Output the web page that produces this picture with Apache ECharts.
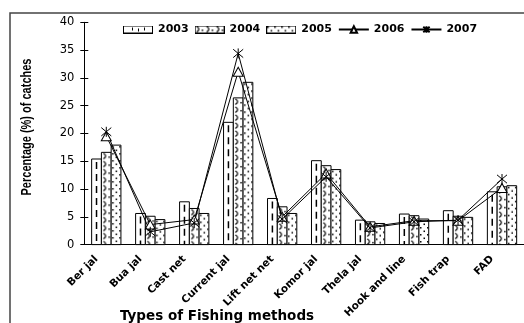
<!DOCTYPE html>
<html>
<head>
<meta charset="utf-8">
<script src="https://cdn.jsdelivr.net/npm/echarts@6/dist/echarts.min.js"></script>
<style>
  html, body { margin: 0; padding: 0; background: #fff; }
  #chart { width: 524px; height: 323px; }
</style>
</head>
<body>
<div id="chart"></div>
<script>
// Fishing methods and share of catches (%) per year
var categories = ['Ber jal', 'Bua jal', 'Cast net', 'Current jal', 'Lift net net',
                  'Komor jal', 'Thela jal', 'Hook and line', 'Fish trap', 'FAD'];
var years = ['2003', '2004', '2005', '2006', '2007'];
var catch2003 = [15.4, 5.6, 7.7, 22.0, 8.3, 15.1, 4.4, 5.5, 6.1, 9.5];
var catch2004 = [16.6, 5.1, 6.5, 26.4, 6.8, 14.2, 4.1, 5.2, 5.1, 10.4];
var catch2005 = [17.9, 4.5, 5.6, 29.2, 5.6, 13.5, 3.8, 4.6, 4.9, 10.6];
var catch2006 = [19.5, 3.6, 4.5, 31.1, 5.0, 12.8, 3.2, 4.3, 4.3, 10.2];
var catch2007 = [20.3, 2.3, 3.9, 34.4, 4.6, 12.2, 3.0, 4.1, 4.4, 11.8];
var yTicks = { min: 0, max: 40, interval: 5 };

var FONT = 'DejaVu Sans';

// ---- hatch tiles for the bar fills ----
function tile(w, h, draw) {
  var c = document.createElement('canvas');
  c.width = w; c.height = h;
  var g = c.getContext('2d');
  g.fillStyle = '#fff'; g.fillRect(0, 0, w, h);
  g.strokeStyle = '#000'; g.fillStyle = '#000'; g.lineWidth = 1;
  draw(g);
  return c;
}
// wavy marks in a column plus sparse dots
var wavyTile = tile(10, 8, function (g) {
  g.lineWidth = 1.2;
  g.beginPath();
  g.moveTo(2, 1); g.quadraticCurveTo(6.5, 3.5, 2, 6.5);
  g.stroke();
  g.fillRect(7, 4, 1.5, 1.5);
});
// scattered dots
var dotTile = tile(7, 7, function (g) {
  g.fillRect(1, 1, 1.5, 1.5);
  g.fillRect(4.5, 4.5, 1.5, 1.5);
});

function legendIcon(kind) {
  var c = document.createElement('canvas');
  c.width = 30; c.height = 8;
  var g = c.getContext('2d');
  g.fillStyle = '#fff'; g.fillRect(0, 0, 30, 8);
  if (kind === 1) { g.fillStyle = g.createPattern(wavyTile, 'repeat'); g.fillRect(0, 0, 30, 8); }
  if (kind === 2) { g.fillStyle = g.createPattern(dotTile, 'repeat'); g.fillRect(0, 0, 30, 8); }
  g.fillStyle = '#000';
  if (kind === 0) { g.fillRect(9, 2, 1, 3); g.fillRect(15, 3, 1, 3); g.fillRect(21, 2, 1, 3); }
  g.strokeStyle = '#000'; g.lineWidth = 1;
  g.strokeRect(0.5, 0.5, 29, 7);
  return 'image://' + c.toDataURL();
}

// bars drawn through the category/value scales; slot = position within the group
function barRenderer(slot, kind) {
  return function (params, api) {
    var idx = api.value(0);
    var topPt = api.coord([idx, api.value(1)]);
    var basePt = api.coord([idx, 0]);
    var band = api.size([1, 0])[0];
    var bw = band * 0.222;
    var x0 = topPt[0] + (slot - 1.5) * bw;
    var h = basePt[1] - topPt[1];
    var children = [];
    var fill = '#fff';
    if (kind === 1) fill = { image: wavyTile, repeat: 'repeat' };
    if (kind === 2) fill = { image: dotTile, repeat: 'repeat' };
    children.push({
      type: 'rect',
      shape: { x: 0, y: 0, width: bw, height: h },
      style: { fill: fill, stroke: '#000', lineWidth: 1 }
    });
    if (kind === 0) {
      children.push({
        type: 'line',
        shape: { x1: bw / 2, y1: 3, x2: bw / 2, y2: h },
        style: { stroke: '#000', lineWidth: 1.5, lineDash: [7, 5] }
      });
    }
    return { type: 'group', x: x0, y: topPt[1], children: children };
  };
}

function pairs(arr) { return arr.map(function (v, i) { return [i, v]; }); }

var starPath = 'path://M0,0L10,10M10,0L0,10M5,-1L5,11';

var chart = echarts.init(document.getElementById('chart'), null, { renderer: 'canvas' });
chart.setOption({
  animation: false,
  textStyle: { fontFamily: FONT, color: '#000' },
  grid: { left: 84.3, top: 22.3, bottom: 78.4, right: -12.2, containLabel: false },
  legend: {
    left: 118, top: 19,
    itemWidth: 30, itemHeight: 8, itemGap: 6,
    textStyle: { fontFamily: FONT, fontWeight: 'bold', fontSize: 11, color: '#000' },
    data: [
      { name: years[0], icon: legendIcon(0) },
      { name: years[1], icon: legendIcon(1) },
      { name: years[2], icon: legendIcon(2) },
      { name: years[3] },
      { name: years[4] }
    ]
  },
  xAxis: {
    type: 'category',
    data: categories,
    boundaryGap: true,
    axisLine: { lineStyle: { color: '#000', width: 1 } },
    axisTick: { length: 5, lineStyle: { color: '#000' } },
    axisLabel: {
      rotate: 45, margin: 3, interval: 0,
      fontFamily: FONT, fontWeight: 'bold', fontSize: 10.5, color: '#000',
      padding: [0, 14, 0, 0]
    },
    splitLine: { show: false }
  },
  yAxis: [{
    type: 'value',
    min: yTicks.min, max: yTicks.max, interval: yTicks.interval,
    axisLine: { show: true, lineStyle: { color: '#000', width: 1 } },
    axisTick: { show: true, length: 4, lineStyle: { color: '#000' } },
    axisLabel: { fontFamily: FONT, fontSize: 11.5, color: '#000', margin: 10 },
    splitLine: { show: false }
  }, {
    type: 'value', position: 'left',
    min: yTicks.min, max: yTicks.max, interval: yTicks.interval,
    axisLine: { show: false },
    axisTick: { show: true, inside: true, length: 4, lineStyle: { color: '#000' } },
    axisLabel: { show: false },
    splitLine: { show: false }
  }],
  graphic: [
    {
      type: 'rect', z: 100, silent: true,
      shape: { x: 10, y: 13, width: 700, height: 500 },
      style: { fill: 'none', stroke: '#444', lineWidth: 1.5 }
    },
    {
      type: 'text', x: 27, y: 127, rotation: Math.PI / 2, scaleY: 1.3,
      style: {
        text: 'Percentage (%) of catches', fill: '#000',
        font: 'bold 11px "Liberation Sans"', align: 'center', verticalAlign: 'middle'
      }
    },
    {
      type: 'text', x: 217, y: 316,
      style: {
        text: 'Types of Fishing methods', fill: '#000',
        font: 'bold 13.5px "DejaVu Sans"', align: 'center', verticalAlign: 'middle'
      }
    }
  ],
  series: [
    { name: years[0], type: 'custom', renderItem: barRenderer(0, 0), data: pairs(catch2003),
      encode: { x: 0, y: 1 }, itemStyle: { color: '#fff', borderColor: '#000' } },
    { name: years[1], type: 'custom', renderItem: barRenderer(1, 1), data: pairs(catch2004),
      encode: { x: 0, y: 1 }, itemStyle: { color: '#fff', borderColor: '#000' } },
    { name: years[2], type: 'custom', renderItem: barRenderer(2, 2), data: pairs(catch2005),
      encode: { x: 0, y: 1 }, itemStyle: { color: '#fff', borderColor: '#000' } },
    { name: years[3], type: 'line', data: catch2006, z: 5,
      symbol: 'triangle', symbolSize: [10, 9], showAllSymbol: true,
      lineStyle: { color: '#000', width: 1 },
      itemStyle: { color: '#fff', borderColor: '#000', borderWidth: 1 } },
    { name: years[4], type: 'line', data: catch2007, z: 5,
      symbol: starPath, symbolSize: 10, showAllSymbol: true,
      lineStyle: { color: '#000', width: 1 },
      itemStyle: { color: '#000', borderColor: '#000', borderWidth: 1 } }
  ]
});
</script>
</body>
</html>
